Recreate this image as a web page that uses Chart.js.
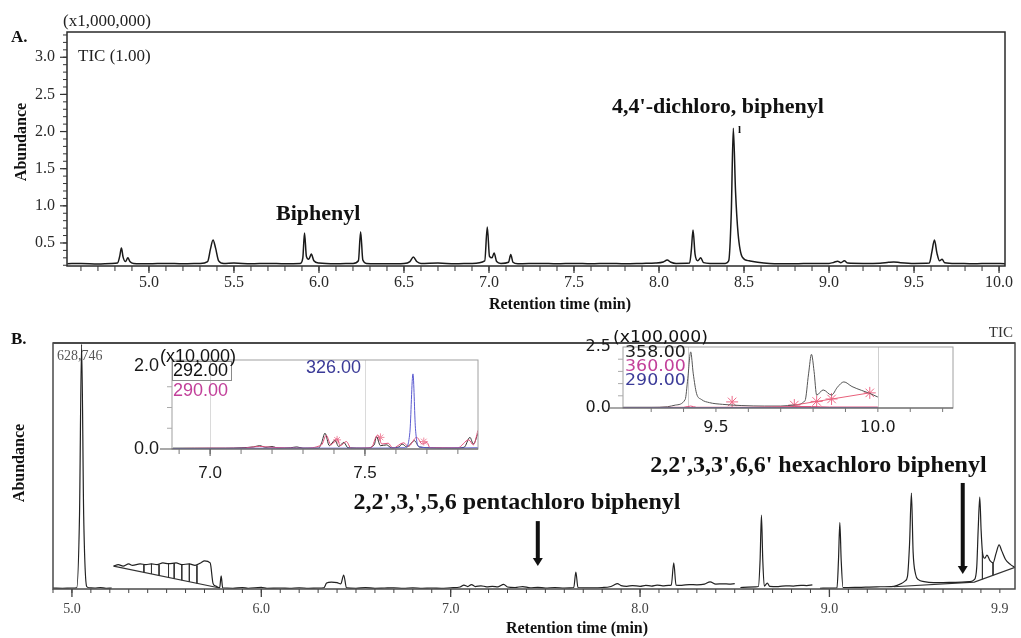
<!DOCTYPE html>
<html>
<head>
<meta charset="utf-8">
<title>GC-MS chromatograms</title>
<script src="https://cdn.jsdelivr.net/npm/chart.js@4.4.1/dist/chart.umd.min.js"></script>
<style>
  html, body { margin: 0; padding: 0; background: #fff; }
  #wrap { position: relative; width: 1021px; height: 638px; overflow: hidden; background: #fff; }
  canvas { position: absolute; }
</style>
</head>
<body>
<div id="wrap">
  <canvas id="chartA" width="1021" height="318" style="left:0;top:0"></canvas>
  <canvas id="chartB" width="1021" height="320" style="left:0;top:318px"></canvas>
  <canvas id="insetLeft" width="400" height="160" style="left:100px;top:330px"></canvas>
  <canvas id="insetRight" width="461" height="120" style="left:560px;top:320px"></canvas>
</div>
<script>
const SERIF = "'Liberation Serif', 'Times New Roman', serif";
const SANS = "'Liberation Sans', Arial, sans-serif";
const WIDE = "'DejaVu Sans', Verdana, sans-serif";

// ---- Panel A: TIC, [retention time (min), abundance (x1,000,000)]
const ticA = [
  [4.52,0.22],[4.60,0.225],[4.70,0.218],[4.78,0.225],[4.815,0.23],[4.828,0.32],[4.838,0.433],[4.848,0.31],
  [4.862,0.25],[4.876,0.30],[4.888,0.25],[4.91,0.225],[5.00,0.22],[5.10,0.225],[5.20,0.22],[5.30,0.225],
  [5.345,0.25],[5.362,0.42],[5.377,0.54],[5.392,0.43],[5.41,0.26],[5.44,0.225],[5.50,0.23],[5.60,0.22],
  [5.70,0.225],[5.80,0.22],[5.89,0.225],[5.905,0.30],[5.915,0.634],[5.926,0.32],[5.94,0.28],[5.955,0.35],
  [5.97,0.26],[6.00,0.23],[6.10,0.22],[6.20,0.225],[6.232,0.26],[6.245,0.65],[6.258,0.27],[6.28,0.225],
  [6.40,0.22],[6.50,0.225],[6.535,0.25],[6.555,0.31],[6.575,0.25],[6.60,0.225],[6.70,0.23],[6.80,0.22],
  [6.90,0.225],[6.975,0.26],[6.99,0.715],[7.003,0.32],[7.018,0.30],[7.03,0.366],[7.045,0.25],[7.07,0.225],
  [7.115,0.24],[7.128,0.345],[7.141,0.24],[7.17,0.22],[7.30,0.225],[7.40,0.22],[7.50,0.225],[7.60,0.22],
  [7.70,0.225],[7.80,0.22],[7.90,0.225],[7.98,0.23],[8.025,0.245],[8.048,0.27],[8.07,0.24],[8.10,0.225],
  [8.18,0.23],[8.19,0.40],[8.20,0.675],[8.212,0.35],[8.228,0.26],[8.245,0.30],[8.262,0.235],[8.30,0.225],
  [8.39,0.225],[8.41,0.26],[8.425,0.90],[8.437,2.045],[8.45,1.20],[8.465,0.63],[8.49,0.31],[8.53,0.26],
  [8.58,0.24],[8.65,0.225],[8.80,0.22],[8.90,0.225],[9.00,0.225],[9.03,0.24],[9.05,0.255],[9.07,0.235],
  [9.09,0.26],[9.11,0.23],[9.20,0.225],[9.30,0.228],[9.35,0.24],[9.38,0.245],[9.42,0.235],[9.50,0.225],
  [9.59,0.23],[9.605,0.38],[9.62,0.54],[9.635,0.36],[9.65,0.26],[9.665,0.28],[9.68,0.235],[9.75,0.225],
  [9.85,0.22],[9.95,0.225],[10.035,0.22]
];
const xLabelsA = [5.0, 5.5, 6.0, 6.5, 7.0, 7.5, 8.0, 8.5, 9.0, 9.5, 10.0];
const yLabelsA = [0.5, 1.0, 1.5, 2.0, 2.5, 3.0];

// ---- Panel B: TIC (relative abundance, % of 628,746), null = break in trace
const ticB = [
  [4.90,0.4],[4.95,0.3],[5.00,0.4],[5.025,0.5],[5.04,30],[5.051,99.5],[5.062,30],[5.078,1.0],[5.09,0.5],
  [5.12,0.4],[5.15,0.6],[5.18,0.3],[5.21,0.4],[5.215,null],
  [5.22,9.3],[5.245,9.9],[5.27,9.3],[5.30,10.2],[5.32,9.6],[5.36,10.2],[5.39,9.9],[5.42,10.2],[5.45,9.9],
  [5.48,10.6],[5.51,10.3],[5.55,10.6],[5.58,9.9],[5.62,10.2],[5.65,9.6],[5.68,10.6],[5.70,11.4],[5.73,10.6],
  [5.745,2.3],[5.76,1.2],[5.78,0.5],[5.788,5.3],[5.796,0.5],[5.85,0.3],[5.90,0.6],[5.93,0.3],[6.00,0.7],
  [6.03,0.3],[6.10,0.4],[6.15,0.3],[6.20,0.5],[6.25,0.3],[6.30,0.4],[6.33,0.5],[6.345,2.4],[6.37,2.8],
  [6.40,2.6],[6.42,2.1],[6.435,5.7],[6.45,0.5],[6.50,0.3],[6.55,0.6],[6.60,0.3],[6.65,0.4],[6.70,0.5],
  [6.75,0.3],[6.80,0.5],[6.85,0.3],[6.90,0.4],[6.95,0.3],[7.00,0.5],[7.05,0.8],[7.07,1.6],[7.09,1.0],
  [7.11,1.8],[7.13,1.0],[7.16,1.3],[7.19,0.9],[7.22,1.1],[7.25,0.9],[7.28,1.9],[7.30,0.8],[7.34,0.6],
  [7.38,1.0],[7.42,0.5],[7.46,0.7],[7.50,0.4],[7.55,0.6],[7.60,0.4],[7.65,0.6],[7.661,6.9],[7.672,0.6],
  [7.75,0.5],[7.80,0.6],[7.84,0.9],[7.86,1.5],[7.88,2.2],[7.90,1.4],[7.93,1.1],[7.96,1.4],[8.00,1.1],
  [8.03,1.5],[8.06,1.2],[8.09,1.6],[8.12,1.3],[8.15,1.5],[8.165,1.6],[8.178,10.6],[8.19,1.6],[8.22,1.5],
  [8.26,1.8],[8.30,1.7],[8.34,2.0],[8.37,2.9],[8.40,2.0],[8.44,2.1],[8.47,2.0],[8.50,2.2],[8.515,null],
  [8.53,0.6],[8.57,0.8],[8.61,0.9],[8.625,1.0],[8.634,12],[8.641,30],[8.648,12],[8.656,1.2],[8.672,2.4],
  [8.685,1.1],[8.73,1.0],[8.77,1.3],[8.81,1.2],[8.85,1.5],[8.88,1.4],[8.91,1.7],[8.93,null],
  [8.95,0.3],[9.00,0.4],[9.04,0.5],[9.048,12],[9.055,27],[9.062,12],[9.072,0.6],[9.15,0.7],[9.25,0.9],
  [9.34,1.1],[9.38,2.2],[9.40,3.3],[9.412,5.0],[9.423,18],[9.433,39],[9.442,15],[9.455,6.0],[9.47,3.8],
  [9.50,3.0],[9.55,2.6],[9.60,2.6],[9.65,2.7],[9.70,2.8],[9.74,3.0],[9.765,3.8],[9.778,9],[9.786,25],
  [9.794,37.4],[9.801,24],[9.808,15],[9.82,12.5],[9.832,13.8],[9.848,11.5],[9.864,10.6],[9.88,14.5],
  [9.896,17.9],[9.91,15.5],[9.93,12],[9.955,10],[9.98,8.8]
];
const baselineB = [[5.22,9.3],[5.78,0.4],[5.79,null],[9.34,0.9],[9.765,2.8],[9.98,8.8]];
const hatchTimes = [5.38, 5.42, 5.46, 5.51, 5.54, 5.58, 5.62, 5.66];
const hatchTop = [9.9, 10.2, 9.9, 10.3, 10.5, 9.9, 10.2, 9.6];
const hatchBottom = [6.8, 6.1, 5.5, 4.7, 4.2, 3.6, 2.9, 2.3];
const dropTimes = [9.808, 9.864];
const dropTop = [15, 10.6];
const dropBottom = [4.0, 5.6];
const xLabelsB = [5.0, 6.0, 7.0, 8.0, 9.0, 9.9];

// ---- Inset left: extracted ions (x10,000)
const ion292 = [
  [6.88,0.02],[6.95,0.02],[7.05,0.02],[7.10,0.03],[7.14,0.05],[7.16,0.08],[7.18,0.04],[7.20,0.06],[7.22,0.02],
  [7.26,0.03],[7.28,0.05],[7.30,0.02],[7.35,0.02],[7.36,0.15],[7.371,0.38],[7.385,0.08],[7.403,0.21],
  [7.415,0.06],[7.432,0.16],[7.445,0.03],[7.50,0.02],[7.53,0.10],[7.537,0.30],[7.55,0.08],[7.57,0.10],
  [7.585,0.03],[7.61,0.05],[7.62,0.12],[7.635,0.05],[7.66,0.20],[7.675,0.05],[7.72,0.03],[7.78,0.02],
  [7.82,0.04],[7.839,0.28],[7.85,0.12],[7.865,0.38]
];
const ion290 = [
  [6.88,0.01],[7.00,0.02],[7.10,0.02],[7.16,0.06],[7.20,0.04],[7.30,0.02],[7.36,0.10],[7.375,0.33],
  [7.39,0.10],[7.41,0.25],[7.42,0.08],[7.44,0.18],[7.455,0.02],[7.52,0.03],[7.54,0.33],[7.555,0.12],
  [7.575,0.14],[7.59,0.02],[7.625,0.15],[7.64,0.06],[7.667,0.28],[7.685,0.12],[7.70,0.16],[7.71,0.03],
  [7.80,0.03],[7.835,0.22],[7.85,0.10],[7.865,0.45]
];
const ion326 = [
  [6.88,0.01],[7.30,0.02],[7.50,0.02],[7.63,0.03],[7.645,0.40],[7.655,1.81],[7.663,0.50],[7.675,0.05],
  [7.75,0.02],[7.865,0.03]
];
const marks290 = [[7.41,0.22],[7.55,0.28],[7.69,0.18]];
const xLabelsL = [7.0, 7.5];
const yLabelsL = [0.0, 2.0];

// ---- Inset right: extracted ions (x100,000)
const ion358 = [
  [9.213,0.03],[9.30,0.03],[9.35,0.05],[9.375,0.12],[9.405,0.35],[9.413,1.2],[9.422,2.3],[9.43,1.4],
  [9.44,0.6],[9.455,0.35],[9.48,0.22],[9.52,0.15],[9.58,0.10],[9.65,0.08],[9.70,0.08],[9.74,0.12],
  [9.775,0.30],[9.786,1.4],[9.795,2.2],[9.803,1.5],[9.811,0.53],[9.831,0.74],[9.857,0.53],[9.875,0.85],
  [9.895,1.07],[9.92,0.88],[9.95,0.72],[9.975,0.60],[10.0,0.45]
];
const ion360 = [[9.213,0.02],[9.40,0.03],[9.422,0.08],[9.44,0.03],[9.60,0.03],[9.742,0.06],[9.795,0.06],[9.85,0.04],[10.0,0.04]];
const ion290b = [[9.213,0.01],[9.60,0.015],[10.0,0.01]];
const base360 = [[9.742,0.12],[9.975,0.62]];
const marks360 = [[9.55,0.25],[9.742,0.12],[9.811,0.27],[9.857,0.37],[9.975,0.62]];
const xLabelsR = [9.5, 10.0];
const yLabelsR = [0.0, 2.5];

// helpers
const pts = arr => arr.map(p => ({x: p[0], y: p[1]}));
function range(a, b, s) {
  const out = [];
  for (let v = a; v <= b + 1e-9; v += s) out.push(+v.toFixed(3));
  return out;
}
function seg(ctx, x1, y1, x2, y2, color, w) {
  ctx.beginPath(); ctx.moveTo(x1, y1); ctx.lineTo(x2, y2);
  ctx.strokeStyle = color; ctx.lineWidth = w; ctx.stroke();
}

// draws frames, tick marks, annotations and arrows
const deco = {
  id: 'deco',
  beforeDatasetsDraw(chart, args, o) {
    if (!o || !o.vgrid) return;
    const {ctx, chartArea: a} = chart, xs = chart.scales.x;
    ctx.save();
    o.vgrid.forEach(g => g.values.forEach(v => {
      const px = Math.round(xs.getPixelForValue(v)) + 0.5;
      seg(ctx, px, a.top, px, a.bottom, g.color, 1);
    }));
    ctx.restore();
  },
  afterDraw(chart, args, o) {
    if (!o) return;
    const {ctx, chartArea: a} = chart, xs = chart.scales.x, ys = chart.scales.y;
    ctx.save();
    if (o.box) {
      ctx.strokeStyle = o.box.color; ctx.lineWidth = o.box.width;
      ctx.strokeRect(a.left, a.top, a.right - a.left, a.bottom - a.top);
      if (o.box.top) seg(ctx, a.left, a.top, a.right, a.top, o.box.color, o.box.top);
    }
    if (o.axisLine) seg(ctx, a.left - o.axisLine.ext, a.bottom, a.right, a.bottom, o.axisLine.color, o.axisLine.width);
    (o.xTicks || []).forEach(t => t.values.forEach(v => {
      const px = xs.getPixelForValue(v);
      seg(ctx, px, a.bottom, px, a.bottom + t.len, t.color, t.width || 1);
    }));
    (o.yTicks || []).forEach(t => t.values.forEach(v => {
      const py = ys.getPixelForValue(v);
      seg(ctx, a.left - t.len, py, a.left, py, t.color, t.width || 1);
    }));
    (o.rects || []).forEach(r => {
      ctx.strokeStyle = r.color; ctx.lineWidth = 1;
      ctx.strokeRect(r.x + 0.5, r.y + 0.5, r.w, r.h);
    });
    (o.arrows || []).forEach(ar => {
      const px = xs.getPixelForValue(ar.x), top = ys.getPixelForValue(ar.from), tip = ys.getPixelForValue(ar.to);
      ctx.fillStyle = '#111';
      ctx.fillRect(px - 2, top, 4, tip - top - 7);
      ctx.beginPath();
      ctx.moveTo(px - 5, tip - 8); ctx.lineTo(px + 5, tip - 8); ctx.lineTo(px, tip);
      ctx.closePath(); ctx.fill();
    });
    (o.texts || []).forEach(t => {
      let x = t.x, y = t.y;
      if (t.data) { x = xs.getPixelForValue(t.x); y = ys.getPixelForValue(t.y); }
      ctx.save();
      ctx.translate(x, y);
      if (t.rot) ctx.rotate(t.rot);
      ctx.scale(t.sx || 1, 1);
      ctx.font = t.font;
      ctx.fillStyle = t.color || '#111';
      ctx.textAlign = t.align || 'left';
      ctx.textBaseline = t.base || 'middle';
      if (t.maxW) ctx.fillText(t.text, 0, 0, t.maxW);
      else ctx.fillText(t.text, 0, 0);
      ctx.restore();
    });
    ctx.restore();
  }
};

function trace(data, color, width, extra) {
  return Object.assign({
    data: pts(data), borderColor: color, borderWidth: width, pointRadius: 0,
    fill: false, cubicInterpolationMode: 'monotone', spanGaps: false
  }, extra || {});
}

function makeOptions(o) {
  return {
    responsive: false, animation: false, events: [],
    layout: {padding: o.pad},
    plugins: {legend: {display: false}, tooltip: {enabled: false}, deco: o.deco},
    scales: {
      x: {
        type: 'linear', min: o.xMin, max: o.xMax,
        grid: {display: false, drawTicks: false}, border: {display: false},
        afterBuildTicks: s => { s.ticks = o.xLabels.map(v => ({value: v})); },
        afterFit: s => { s.height = o.xHeight; },
        ticks: {autoSkip: false, maxRotation: 0, padding: o.xPad, color: o.tickColor, font: o.xFont,
                callback: v => v.toFixed(1)}
      },
      y: {
        type: 'linear', min: o.yMin, max: o.yMax,
        grid: {display: false, drawTicks: false}, border: {display: false},
        afterBuildTicks: s => { s.ticks = o.yLabels.map(v => ({value: v})); },
        afterFit: s => { s.width = o.yWidth; },
        ticks: {display: o.yShow !== false, autoSkip: false, padding: o.yPad, color: o.tickColor, font: o.yFont,
                callback: v => v.toFixed(1)}
      }
    }
  };
}

// ---------- Panel A
new Chart(document.getElementById('chartA'), {
  type: 'line',
  plugins: [deco],
  data: {datasets: [trace(ticA, '#1a1a1a', 1.5)]},
  options: makeOptions({
    pad: {top: 32, right: 16, left: 0, bottom: 0},
    xMin: 4.518, xMax: 10.035, yMin: 0.19, yMax: 3.34,
    xLabels: xLabelsA, yLabels: yLabelsA, xHeight: 52, yWidth: 67,
    xPad: 7, yPad: 12, tickColor: '#2a2a2a',
    xFont: {family: SERIF, size: 16}, yFont: {family: SERIF, size: 16},
    deco: {
      box: {color: '#2a2a2a', width: 1.5},
      xTicks: [{values: range(4.6, 10.0, 0.1), len: 5, color: '#333'},
               {values: xLabelsA, len: 7, color: '#333', width: 1.2}],
      yTicks: [{values: range(0.2, 3.3, 0.1), len: 4, color: '#333'},
               {values: yLabelsA, len: 7, color: '#333', width: 1.2}],
      texts: [
        {text: '(x1,000,000)', x: 63, y: 22, font: `17px ${SERIF}`, color: '#222'},
        {text: 'A.', x: 11, y: 38, font: `bold 17px ${SERIF}`},
        {text: 'TIC (1.00)', x: 78, y: 57, font: `17px ${SERIF}`, color: '#222'},
        {text: 'Abundance', x: 21.5, y: 142, rot: -Math.PI / 2, align: 'center', font: `bold 16px ${SERIF}`},
        {text: 'Retention time (min)', x: 560, y: 305, align: 'center', font: `bold 16px ${SERIF}`},
        {text: 'Biphenyl', x: 5.747, y: 0.81, data: true, base: 'alphabetic', font: `bold 22px ${SERIF}`},
        {text: "4,4'-dichloro, biphenyl", x: 7.724, y: 2.247, data: true, base: 'alphabetic', font: `bold 22px ${SERIF}`},
        {text: 'l', x: 8.465, y: 1.98, data: true, base: 'alphabetic', font: `bold 11px ${SERIF}`}
      ]
    }
  })
});

// ---------- Panel B
const hatch = hatchTimes.flatMap((t, i) => [[t, hatchTop[i]], [t, hatchBottom[i]], [t, null]]);
const drops = dropTimes.flatMap((t, i) => [[t, dropTop[i]], [t, dropBottom[i]], [t, null]]);

new Chart(document.getElementById('chartB'), {
  type: 'line',
  plugins: [deco],
  data: {datasets: [
    trace(ticB, '#222', 1.2),
    trace(baselineB, '#333', 1.1, {cubicInterpolationMode: 'default', tension: 0}),
    trace(hatch, '#333', 1, {cubicInterpolationMode: 'default', tension: 0}),
    trace(drops, '#333', 1, {cubicInterpolationMode: 'default', tension: 0})
  ]},
  options: makeOptions({
    pad: {top: 25, right: 6, left: 0, bottom: 0},
    xMin: 4.90, xMax: 9.98, yMin: 0, yMax: 100,
    xLabels: xLabelsB, yLabels: [0, 100], yShow: false, xHeight: 49, yWidth: 53,
    xPad: 12, yPad: 4, tickColor: '#444',
    xFont: {family: SERIF, size: 14}, yFont: {family: SERIF, size: 14},
    deco: {
      box: {color: '#4a4a4a', width: 1.5, top: 2.2},
      xTicks: [{values: range(4.9, 9.9, 0.1), len: 4, color: '#444'},
               {values: [5, 6, 7, 8, 9], len: 8, color: '#444', width: 1.3}],
      arrows: [{x: 7.46, from: 27.6, to: 9.3}, {x: 9.704, from: 43.1, to: 6.1}],
      texts: [
        {text: 'B.', x: 11, y: 22, font: `bold 17px ${SERIF}`},
        {text: '628,746', x: 57, y: 38, font: `14px ${SERIF}`, color: '#555'},
        {text: 'TIC', x: 1013, y: 15, align: 'right', font: `15px ${SERIF}`, color: '#333'},
        {text: 'Abundance', x: 20, y: 145, rot: -Math.PI / 2, align: 'center', font: `bold 16px ${SERIF}`},
        {text: 'Retention time (min)', x: 577, y: 311, align: 'center', font: `bold 16px ${SERIF}`},
        {text: "2,2',3,',5,6 pentachloro biphenyl", x: 7.35, y: 32.5, data: true, align: 'center',
         base: 'alphabetic', font: `bold 24px ${SERIF}`, maxW: 336},
        {text: "2,2',3,3',6,6' hexachloro biphenyl", x: 8.942, y: 47.6, data: true, align: 'center',
         base: 'alphabetic', font: `bold 24px ${SERIF}`, maxW: 343}
      ]
    }
  })
});

// ---------- Inset left (m/z 292, 290, 326)
new Chart(document.getElementById('insetLeft'), {
  type: 'line',
  plugins: [deco],
  data: {datasets: [
    trace(ion326, '#5b5bd0', 1),
    trace(ion290, '#e0507a', 1),
    trace(ion292, '#333', 1),
    {data: pts(marks290), showLine: false, pointStyle: 'star', pointRadius: 4,
     pointBorderColor: '#f08aa0', pointBorderWidth: 1}
  ]},
  options: makeOptions({
    pad: {top: 30, right: 22, left: 0, bottom: 0},
    xMin: 6.877, xMax: 7.865, yMin: 0, yMax: 2.145,
    xLabels: xLabelsL, yLabels: yLabelsL, xHeight: 41, yWidth: 72,
    xPad: 14, yPad: 13, tickColor: '#1a1a1a',
    xFont: {family: SANS, size: 17}, yFont: {family: SANS, size: 18},
    deco: {
      vgrid: [{values: xLabelsL, color: '#dadada'}],
      box: {color: '#a0a0a0', width: 1},
      axisLine: {ext: 12, color: '#555', width: 1.2},
      xTicks: [{values: range(6.9, 7.8, 0.1), len: 5, color: '#777'},
               {values: xLabelsL, len: 7, color: '#555'}],
      yTicks: [{values: [0.5, 1.0, 1.5], len: 5, color: '#aaa'}],
      rects: [{x: 72, y: 31, w: 59, h: 19, color: '#8a8a8a'}],
      texts: [
        {text: '(x10,000)', x: 60, y: 27, font: `18px ${SANS}`, color: '#111'},
        {text: '292.00', x: 73, y: 41, font: `18px ${SANS}`, color: '#111'},
        {text: '290.00', x: 73, y: 61, font: `18px ${SANS}`, color: '#c2409a'},
        {text: '326.00', x: 206, y: 38, font: `18px ${SANS}`, color: '#3b3b98'}
      ]
    }
  })
});

// ---------- Inset right (m/z 358, 360, 290)
new Chart(document.getElementById('insetRight'), {
  type: 'line',
  plugins: [deco],
  data: {datasets: [
    trace(ion290b, '#5b5bd0', 1),
    trace(ion360, '#e0507a', 1),
    trace(base360, '#e8607a', 1, {cubicInterpolationMode: 'default', tension: 0}),
    trace(ion358, '#555', 1),
    {data: pts(marks360), showLine: false, pointStyle: 'star', pointRadius: 6,
     pointBorderColor: '#ee6a88', pointBorderWidth: 1}
  ]},
  options: makeOptions({
    pad: {top: 27, right: 68, left: 0, bottom: 0},
    xMin: 9.213, xMax: 10.232, yMin: 0, yMax: 2.5,
    xLabels: xLabelsR, yLabels: yLabelsR, xHeight: 32, yWidth: 63,
    xPad: 10, yPad: 12, tickColor: '#1a1a1a',
    xFont: {family: WIDE, size: 16}, yFont: {family: WIDE, size: 16},
    deco: {
      vgrid: [{values: [9.413, 10.0], color: '#cfcfcf'}],
      box: {color: '#a0a0a0', width: 1},
      axisLine: {ext: 13, color: '#555', width: 1.2},
      xTicks: [{values: range(9.3, 10.2, 0.1), len: 4, color: '#777'}],
      yTicks: [{values: [0.5, 1.0, 1.5, 2.0], len: 5, color: '#aaa'}],
      texts: [
        {text: '(x100,000)', x: 53, y: 18, font: `15px ${WIDE}`, sx: 1.15, color: '#111'},
        {text: '358.00', x: 65, y: 33, font: `15px ${WIDE}`, sx: 1.16, color: '#1a1a1a'},
        {text: '360.00', x: 65, y: 47, font: `15px ${WIDE}`, sx: 1.16, color: '#c2409a'},
        {text: '290.00', x: 65, y: 61, font: `15px ${WIDE}`, sx: 1.16, color: '#3b3b98'}
      ]
    }
  })
});
</script>
</body>
</html>
